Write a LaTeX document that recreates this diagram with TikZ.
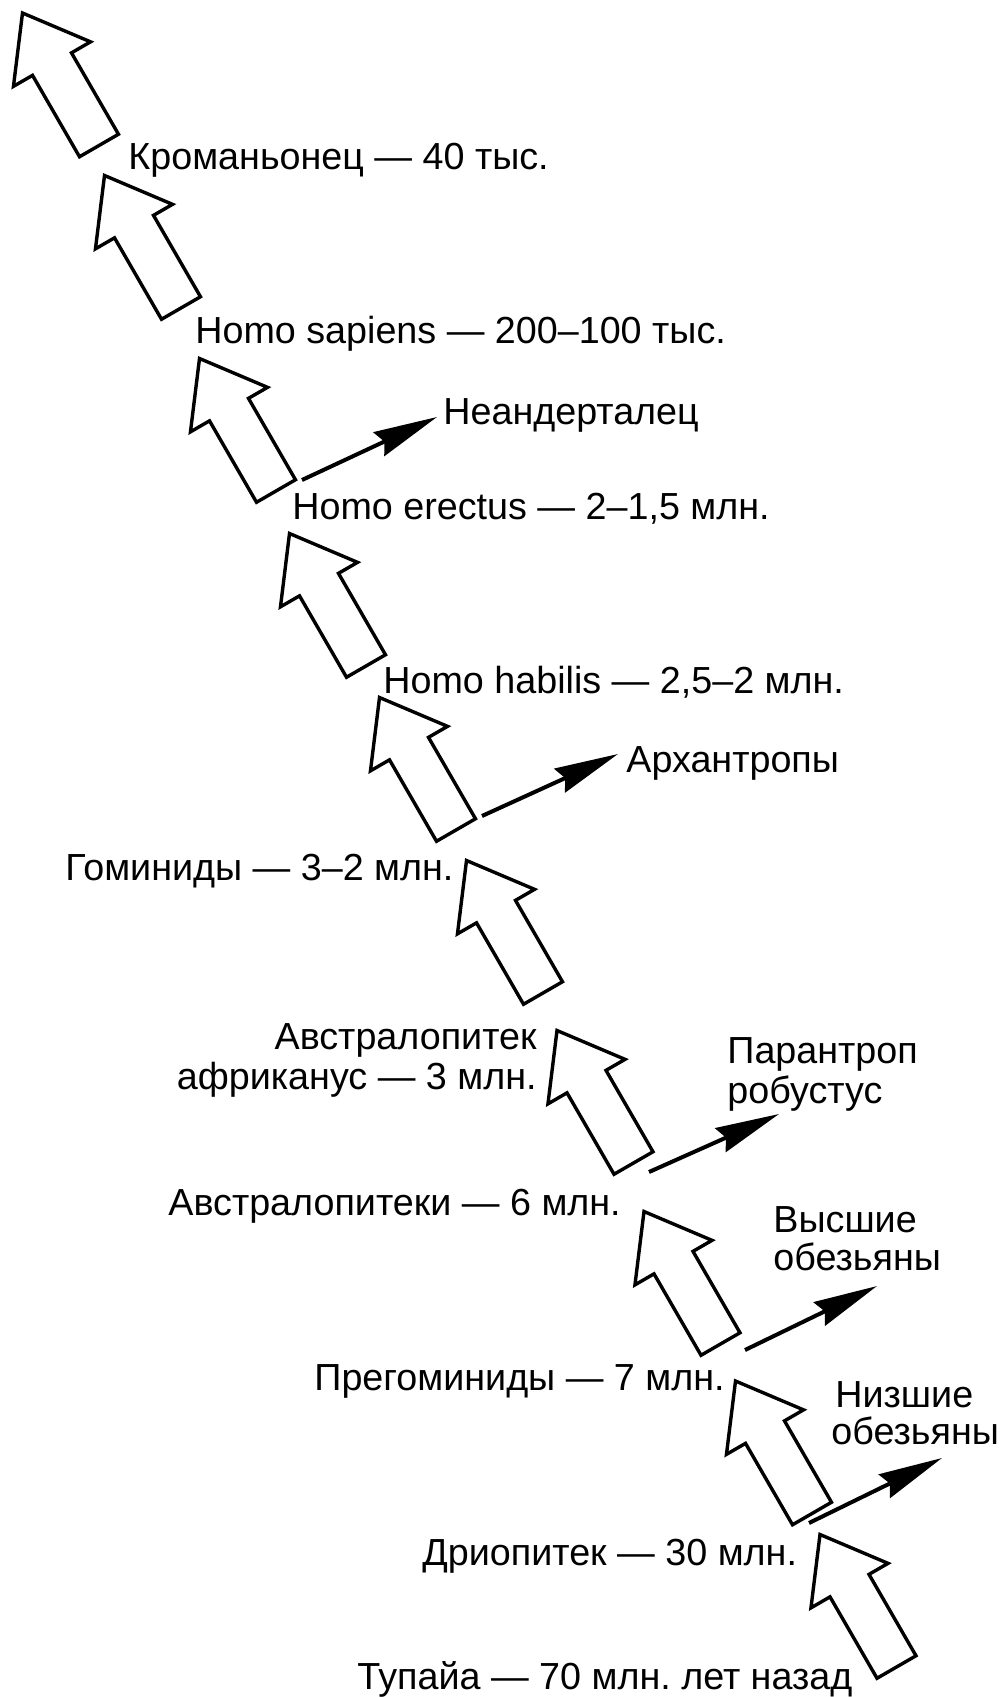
\documentclass[tikz,border=0pt]{standalone}
\usepackage{fontspec}
\setmainfont{Liberation Sans}
\usetikzlibrary{arrows.meta}
\frenchspacing

\tikzset{
  lbl/.style={anchor=base west, inner sep=0pt, font=\fontsize{18.85pt}{20pt}\selectfont},
  lblr/.style={lbl, anchor=base east},
  branch/.style={line width=2pt, -{Stealth[length=32pt,width=13pt,inset=3pt]}},
  bigarrow/.pic={
    \draw[line width=1.7pt, fill=white] (-22.5,0) -- (22.5,0) -- (22.5,94) -- (44.5,94)
      -- (0,153) -- (-44.5,94) -- (-22.5,94) -- cycle;
  }
}

\begin{document}
\begin{tikzpicture}[x=0.5pt,y=0.5pt]
                \useasboundingbox (0,0) rectangle (1003,-1697);
                % main line
                \foreach \x/\y in {99/145.5, 181/308, 276/491, 366/666, 456/830,
                                   543/993, 633.5/1163, 720.5/1344, 812/1513.5, 896.5/1667}
                  \pic[rotate=30] at (\x,-\y) {bigarrow};
                \node[lbl] (kro) at (128,-169) {Кроманьонец — 40 тыс.};
                \node[lbl] (sap) at (195,-343) {Homo sapiens — 200–100 тыс.};
                \node[lbl] (ere) at (292,-519) {Homo erectus — 2–1,5 млн.};
                \node[lbl] (hab) at (383,-693) {Homo habilis — 2,5–2 млн.};
                \node[lbl] (gom) at (65,-880) {Гоминиды — 3–2 млн.};
                \node[lblr] (afa) at (537,-1049) {Австралопитек};
                \node[lblr] (afb) at (537,-1089) {африканус — 3 млн.};
                \node[lbl] (aus) at (168,-1215) {Австралопитеки — 6 млн.};
                \node[lbl] (pre) at (314,-1390) {Прегоминиды — 7 млн.};
                \node[lbl] (dri) at (422,-1565) {Дриопитек — 30 млн.};
                \node[lbl] (tup) at (357,-1689) {Тупайа — 70 млн. лет назад};
                % side branches
                \node[lbl] (nea) at (443,-424) {Неандерталец};
                \node[lbl] (arc) at (626,-772) {Архантропы};
                \node[lbl] (para) at (727,-1063) {Парантроп};
                \node[lbl] (parb) at (727,-1103) {робустус};
                \node[lbl] (vysa) at (773,-1232) {Высшие};
                \node[lbl] (vysb) at (773,-1270) {обезьяны};
                \node[lbl] (niza) at (835,-1407) {Низшие};
                \node[lbl] (nizb) at (831,-1444) {обезьяны};
                \coordinate (nea0) at (302,-480);
                \coordinate (nea1) at (437,-417);
                \coordinate (arc0) at (482,-816);
                \coordinate (arc1) at (618,-754);
                \coordinate (par0) at (649,-1172);
                \coordinate (par1) at (779,-1114);
                \coordinate (vys0) at (745,-1350);
                \coordinate (vys1) at (877,-1286);
                \coordinate (niz0) at (809,-1523);
                \coordinate (niz1) at (942,-1458);
                \draw[branch] (nea0) -- (nea1);
                \draw[branch] (arc0) -- (arc1);
                \draw[branch] (par0) -- (par1);
                \draw[branch] (vys0) -- (vys1);
                \draw[branch] (niz0) -- (niz1);
            \end{tikzpicture}
\end{document}
